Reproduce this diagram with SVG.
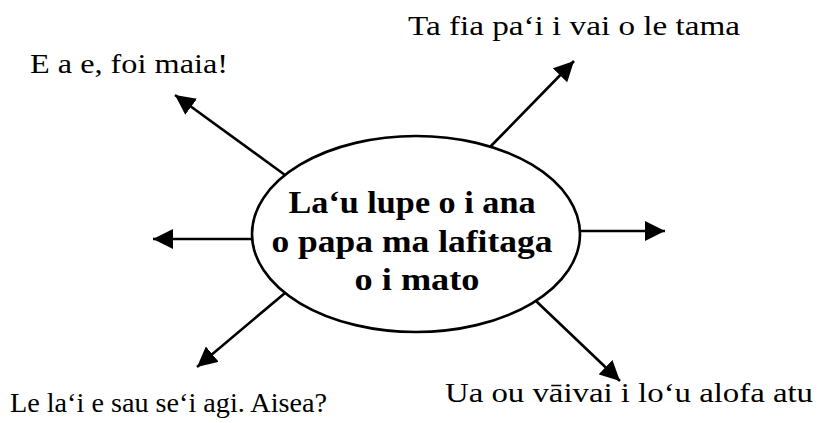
<svg xmlns="http://www.w3.org/2000/svg" width="820" height="423" viewBox="0 0 820 423">
<style>
.lbl{font-family:"Liberation Serif","Times New Roman",serif;font-size:28px;fill:#000}
.ctr{font-family:"Liberation Serif","Times New Roman",serif;font-size:31px;font-weight:bold;fill:#000;text-anchor:middle}
.con{stroke:#000;stroke-width:2.6;fill:none;marker-end:url(#ah)}
</style>
<defs>
<marker id="ah" markerUnits="userSpaceOnUse" markerWidth="20" markerHeight="20" refX="20" refY="10" orient="auto" viewBox="0 0 20 20">
<path d="M0,0 L20,10 L0,20 z" fill="#000"/>
</marker>
</defs>
<rect width="820" height="423" fill="#fff"/>
<g id="connectors">
<line class="con" x1="490" y1="147" x2="574" y2="61"/>
<line class="con" x1="285" y1="175" x2="175" y2="95"/>
<line class="con" x1="252" y1="239" x2="153" y2="239"/>
<line class="con" x1="580" y1="231" x2="665" y2="231"/>
<line class="con" x1="285" y1="293" x2="197" y2="367"/>
<line class="con" x1="536" y1="301" x2="620" y2="381"/>
</g>
<g id="center">
<ellipse cx="416" cy="234" rx="164" ry="98" fill="#fff" stroke="#000" stroke-width="2.6"/>
<text class="ctr" x="412" y="213" textLength="247" lengthAdjust="spacingAndGlyphs">La‘u lupe o i ana</text>
<text class="ctr" x="412" y="252" textLength="281" lengthAdjust="spacingAndGlyphs">o papa ma lafitaga</text>
<text class="ctr" x="417" y="290" textLength="125" lengthAdjust="spacingAndGlyphs">o i mato</text>
</g>
<g id="n-top-right"><text class="lbl" x="408" y="35" textLength="332" lengthAdjust="spacingAndGlyphs">Ta fia pa‘i i vai o le tama</text></g>
<g id="n-top-left"><text class="lbl" x="30" y="73" textLength="198" lengthAdjust="spacingAndGlyphs">E a e, foi maia!</text></g>
<g id="n-bottom-left"><text class="lbl" x="10" y="412" textLength="317" lengthAdjust="spacingAndGlyphs">Le la‘i e sau se‘i agi. Aisea?</text></g>
<g id="n-bottom-right"><text class="lbl" x="445" y="402" textLength="368" lengthAdjust="spacingAndGlyphs">Ua ou vāivai i lo‘u alofa atu</text></g>
</svg>
